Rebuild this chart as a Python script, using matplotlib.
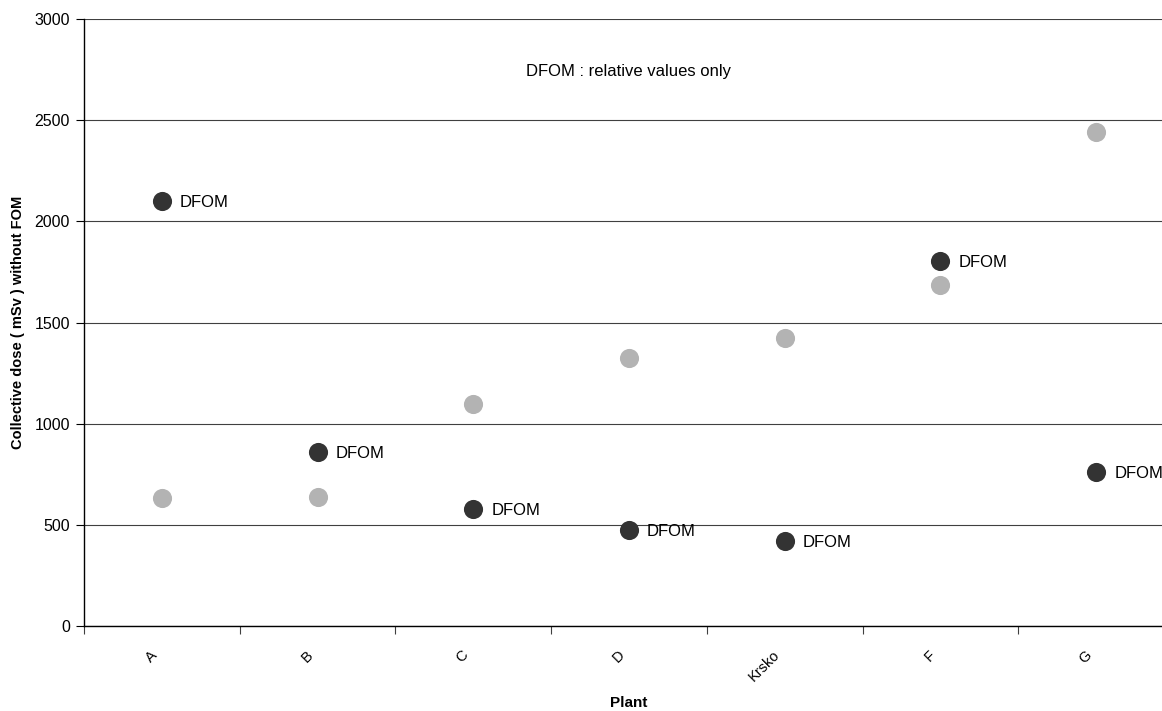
import matplotlib.pyplot as plt
import matplotlib.transforms as mtransforms
import numpy as np

plt.rcParams['font.family'] = ['Liberation Sans', 'DejaVu Sans']

# Data
plants = ['A', 'B', 'C', 'D', 'Krsko', 'F', 'G']
dose_without_fom = [632, 637, 1097, 1325, 1423, 1685, 2441]
dose_dfom = [2100, 860, 578, 474, 420, 1804, 761]
dfom_label = 'DFOM'
note = 'DFOM : relative values only'

x = np.arange(len(plants))

fig = plt.figure(figsize=(11.62, 7.11), dpi=100)
ax = fig.add_axes([0.0723, 0.1195, 0.938, 0.8537])

# Horizontal grid
ax.set_ylim(0, 3000)
ax.set_yticks(range(0, 3001, 500))
ax.yaxis.grid(True, color='#404040', linewidth=0.8)
ax.set_axisbelow(True)

ax.scatter(x, dose_without_fom, s=190, color='#b3b3b3', zorder=3, linewidths=0)
ax.scatter(x, dose_dfom, s=190, color='#333333', zorder=3, linewidths=0)

# DFOM labels next to dark points
for xi, yi in zip(x, dose_dfom):
    ax.annotate(dfom_label, (xi, yi), xytext=(13, -1), textcoords='offset points',
                va='center', ha='left', fontsize=12)

ax.text(3, 2740, note, ha='center', va='center', fontsize=12)

# Category axis: ticks between categories, rotated labels drawn below
ax.set_xlim(-0.5, len(plants) - 0.5)
ax.set_xticks(np.arange(-0.5, len(plants), 1.0))
ax.set_xticklabels([])
ax.tick_params(axis='x', length=6, direction='out', color='#404040')
ax.tick_params(axis='y', length=6, direction='out', labelsize=11.5, pad=4)

offset = mtransforms.ScaledTranslation(-0.07, -0.27, fig.dpi_scale_trans)
for xi, name in zip(x, plants):
    ax.text(xi, 0, name, transform=ax.get_xaxis_transform() + offset,
            rotation=45, rotation_mode='anchor', ha='right', va='center',
            fontsize=10.5, clip_on=False)

for s in ['top', 'right']:
    ax.spines[s].set_visible(False)
ax.spines['left'].set_linewidth(1.0)
ax.spines['bottom'].set_linewidth(1.0)

ax.set_ylabel('Collective dose ( mSv ) without FOM', fontweight='bold', fontsize=10.5)
ax.yaxis.set_label_coords(-0.054, 0.5)
ax.set_xlabel('Plant', fontweight='bold', fontsize=11)
ax.xaxis.set_label_coords(0.5, -0.115)

fig.savefig('out.png', dpi=100)
